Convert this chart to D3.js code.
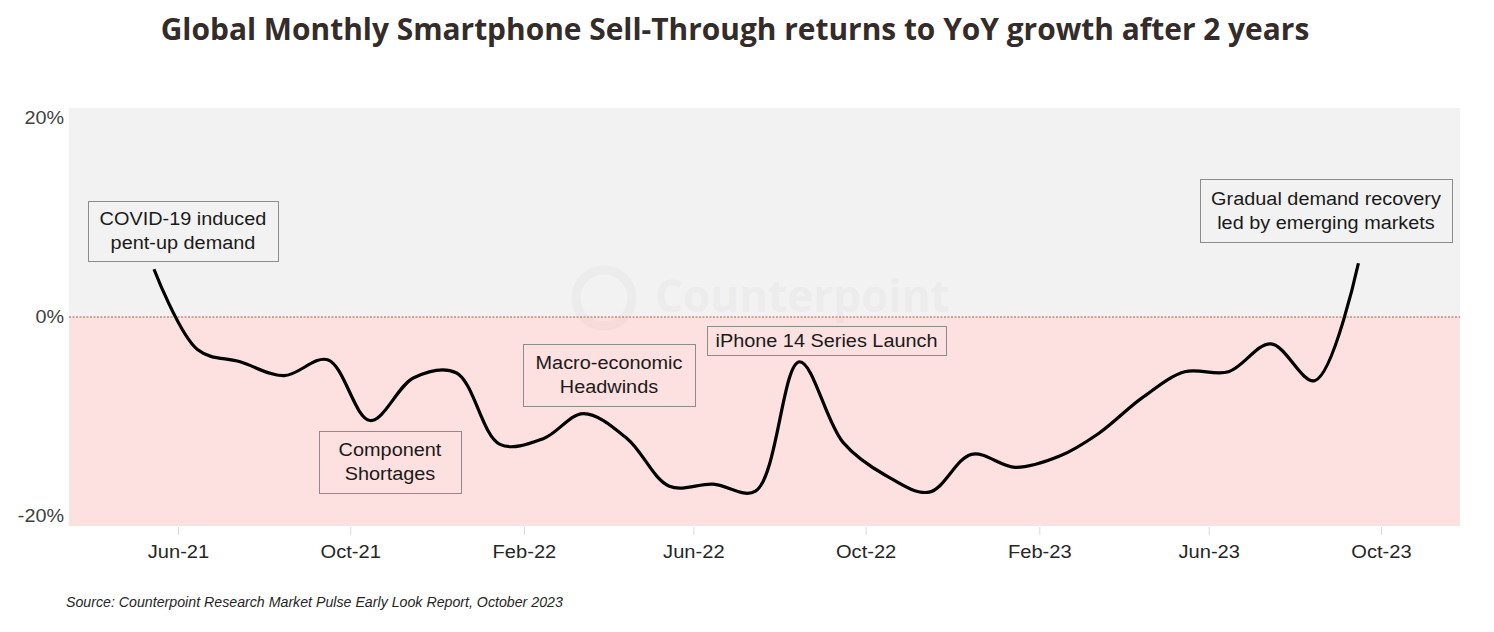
<!DOCTYPE html>
<html>
<head>
<meta charset="utf-8">
<script src="https://cdn.jsdelivr.net/npm/d3@7"></script>
<style>
  html, body { margin: 0; padding: 0; background: #ffffff; }
  svg { display: block; }
</style>
</head>
<body>
<svg id="chart" width="1494" height="632"></svg>
<script>
// ---- Data ----
const months = ["May-21","Jun-21","Jul-21","Aug-21","Sep-21","Oct-21","Nov-21","Dec-21",
  "Jan-22","Feb-22","Mar-22","Apr-22","May-22","Jun-22","Jul-22","Aug-22","Sep-22","Oct-22","Nov-22","Dec-22",
  "Jan-23","Feb-23","Mar-23","Apr-23","May-23","Jun-23","Jul-23","Aug-23","Sep-23"];
const yoyGrowth = [4.8, -3.3, -4.5, -5.9, -4.3, -10.4, -6.1, -5.6,
  -12.8, -12.2, -9.7, -12.2, -17.0, -16.8, -17.5, -4.5, -12.6, -15.9, -17.6, -13.8,
  -15.1, -14.0, -11.7, -8.1, -5.5, -5.5, -2.7, -6.4, 5.4];
const xTickLabels = ["Jun-21","Oct-21","Feb-22","Jun-22","Oct-22","Feb-23","Jun-23","Oct-23"];
const yTickValues = [20, 0, -20];
const annotations = [
  { lines: ["COVID-19 induced", "pent-up demand"], box: [88, 201, 190, 60] },
  { lines: ["Component", "Shortages"], box: [319, 431, 142, 62] },
  { lines: ["Macro-economic", "Headwinds"], box: [523, 344, 172, 62] },
  { lines: ["iPhone 14 Series Launch"], box: [707, 326, 239, 29] },
  { lines: ["Gradual demand recovery", "led by emerging markets"], box: [1200, 179, 252, 63] }
];
const titleText = "Global Monthly Smartphone Sell-Through returns to YoY growth after 2 years";
const sourceText = "Source: Counterpoint Research Market Pulse Early Look Report, October 2023";

// ---- Layout ----
const svg = d3.select("#chart");
const plot = { left: 69, right: 1460, top: 108, bottom: 526 };
const stretch = 1.13; // horizontally widened Arial-like text in the original
const parseMonth = d3.timeParse("%b-%y");

const x = d3.scaleTime()
  .domain([parseMonth("Jun-21"), parseMonth("Oct-23")])
  .range([178, 1381]);
const y = d3.scaleLinear().domain([-21, 21]).range([plot.bottom, plot.top]);

const data = months.map((m, i) => {
  const d = parseMonth(m);
  return { date: new Date(d.getFullYear(), d.getMonth(), 15), value: yoyGrowth[i] };
});

// Title
svg.append("text")
  .attr("x", 735).attr("y", 40)
  .attr("text-anchor", "middle")
  .attr("font-family", "'Open Sans', sans-serif")
  .attr("font-weight", 700)
  .attr("font-size", 29.9)
  .attr("fill", "#342c2a")
  .text(titleText);

// Backgrounds
svg.append("rect")
  .attr("x", plot.left).attr("y", y(21))
  .attr("width", plot.right - plot.left).attr("height", y(0) - y(21))
  .attr("fill", "#f2f2f2");
svg.append("rect")
  .attr("x", plot.left).attr("y", y(0))
  .attr("width", plot.right - plot.left).attr("height", y(-21) - y(0))
  .attr("fill", "#fde0e0");

// Watermark
const wm = svg.append("g").attr("opacity", 0.02);
wm.append("circle").attr("cx", 604).attr("cy", 298).attr("r", 28)
  .attr("fill", "none").attr("stroke", "#000").attr("stroke-width", 9);
wm.append("text").attr("x", 655).attr("y", 312)
  .attr("font-family", "'Open Sans', sans-serif").attr("font-weight", 700)
  .attr("font-size", 44).attr("fill", "#000").text("Counterpoint");

// Zero line
svg.append("line")
  .attr("x1", plot.left).attr("x2", plot.right)
  .attr("y1", y(0)).attr("y2", y(0))
  .attr("stroke", "#c0504d").attr("stroke-width", 1)
  .attr("stroke-dasharray", "2,1.5");

// Y axis labels
svg.append("g").selectAll("text")
  .data(yTickValues).join("text")
  .attr("transform", d => `translate(64,${y(d)}) scale(${stretch},1)`)
  .attr("dy", "0.35em")
  .attr("text-anchor", "end")
  .attr("font-family", "'Liberation Sans', Arial, sans-serif")
  .attr("font-size", 17.5)
  .attr("fill", "#404040")
  .text(d => d + "%");

// X axis
const xAxis = d3.axisBottom(x)
  .tickValues(xTickLabels.map(parseMonth))
  .tickFormat(d3.timeFormat("%b-%y"))
  .tickSize(8).tickPadding(10);
const gx = svg.append("g").attr("transform", `translate(0,${plot.bottom + 1})`).call(xAxis);
gx.select(".domain").remove();
gx.selectAll(".tick line").attr("stroke", "#d9d9d9");
gx.selectAll(".tick text")
  .attr("transform", `scale(${stretch},1)`)
  .attr("font-family", "'Liberation Sans', Arial, sans-serif")
  .attr("font-size", 17.8)
  .attr("fill", "#262626");

// Line
const line = d3.line()
  .x(d => x(d.date))
  .y(d => y(d.value))
  .curve(d3.curveCatmullRom.alpha(0.5));
svg.append("path")
  .datum(data)
  .attr("d", line)
  .attr("fill", "none")
  .attr("stroke", "#000000")
  .attr("stroke-width", 3.2)
  .attr("stroke-linejoin", "round");

// Annotations
const ag = svg.append("g").selectAll("g").data(annotations).join("g");
ag.append("rect")
  .attr("x", d => d.box[0] + 0.5).attr("y", d => d.box[1] + 0.5)
  .attr("width", d => d.box[2]).attr("height", d => d.box[3])
  .attr("fill", "none").attr("stroke", "#8c8c8c").attr("stroke-width", 1);
ag.each(function(d) {
  const g = d3.select(this);
  const cx = d.box[0] + d.box[2] / 2;
  const cy = d.box[1] + d.box[3] / 2;
  const lh = 24;
  d.lines.forEach((t, i) => {
    g.append("text")
      .attr("transform", `translate(${cx},${cy + (i - (d.lines.length - 1) / 2) * lh}) scale(${stretch},1)`)
      .attr("dy", "0.35em")
      .attr("text-anchor", "middle")
      .attr("font-family", "'Liberation Sans', Arial, sans-serif")
      .attr("font-size", 17.6)
      .attr("fill", "#1a1a1a")
      .text(t);
  });
});

// Source
svg.append("text")
  .attr("x", 66).attr("y", 607)
  .attr("font-family", "'Liberation Sans', Arial, sans-serif")
  .attr("font-style", "italic")
  .attr("font-size", 14.2)
  .attr("fill", "#262626")
  .text(sourceText);
</script>
</body>
</html>
